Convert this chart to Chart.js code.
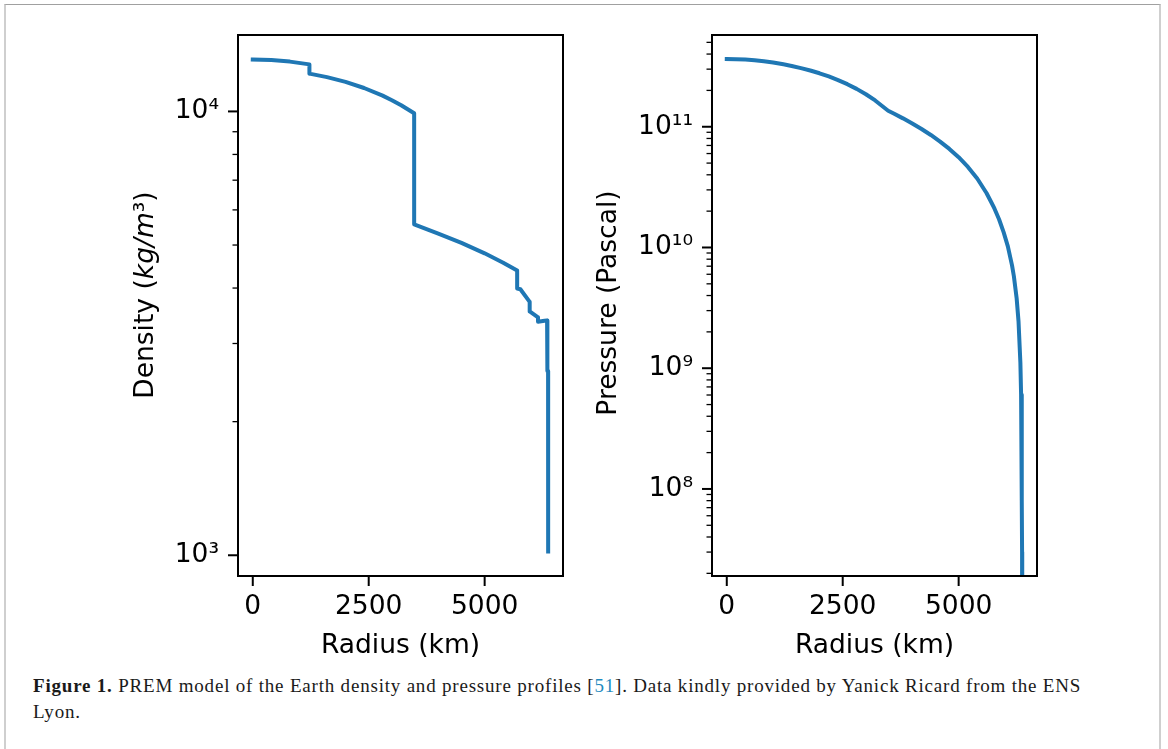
<!DOCTYPE html>
<html>
<head>
<meta charset="utf-8">
<script src="https://cdn.jsdelivr.net/npm/chart.js@4.4.0/dist/chart.umd.min.js"></script>
<style>
	body { margin: 0; background: #fff; width: 1168px; height: 749px; overflow: hidden; position: relative; }
	#frame { position: absolute; left: 4px; top: 4px; width: 1153px; height: 800px;
		border-top: 1px solid #a0a0a0; border-left: 2px solid #cfcfcf; border-right: 2px solid #cfcfcf; }
	canvas { position: absolute; top: 0; }
	#densityChart { left: 0; }
	#pressureChart { left: 584px; }
	#caption { position: absolute; left: 33px; top: 673px; font-family: "Liberation Serif", serif;
		font-size: 19px; letter-spacing: 0.8px; line-height: 26px; color: #1a1a1a; white-space: nowrap; }
	#caption .ref { color: #1f8ac0; }
</style>
</head>
<body>
<div id="frame"></div>
<canvas id="densityChart" width="584" height="670"></canvas>
<canvas id="pressureChart" width="584" height="670"></canvas>
<div id="caption"><b>Figure 1.</b> PREM model of the Earth density and pressure profiles [<span class="ref">51</span>]. Data kindly provided by Yanick Ricard from the ENS<br>Lyon.</div>

<script>
// PREM density (kg/m3) against radius (km), steps are repeated radii
var radiusDensity = [0, 400, 800, 1221.5, 1221.5, 1600, 2000, 2400, 2800, 3000, 3200, 3480, 3480,
	4000, 4500, 5000, 5400, 5701, 5701, 5771, 5971, 5971, 6151, 6151, 6291, 6346.6, 6346.6,
	6356, 6356, 6368, 6368, 6371];
var densityValues = [13088, 13054, 12949, 12764, 12166, 11947, 11655, 11293, 10853, 10601, 10327, 9904, 5566,
	5307, 5055, 4790, 4563, 4381, 3992, 3976, 3724, 3543, 3436, 3360, 3375, 3381, 2900,
	2900, 2600, 2600, 1020, 1020];

// PREM pressure (Pa) against radius (km), last point is the surface (1 atm)
var radiusPressure = [0, 200, 400, 600, 800, 1000, 1221.5, 1400, 1600, 1800, 2000, 2200, 2400, 2600, 2800,
	3000, 3200, 3480, 3600, 3800, 4000, 4200, 4400, 4600, 4800, 5000, 5200, 5400, 5600, 5701,
	5771, 5871, 5971, 6061, 6151, 6191, 6251, 6291, 6331, 6346.6, 6356, 6361, 6366, 6368, 6371];
var pressureValues = [3.6385e11, 3.6291e11, 3.6009e11, 3.554e11, 3.4884e11, 3.4039e11, 3.2885e11, 3.1877e11,
	3.062e11, 2.9238e11, 2.7727e11, 2.61e11, 2.4364e11, 2.2528e11, 2.0599e11, 1.8589e11, 1.6515e11,
	1.3575e11, 1.2871e11, 1.1734e11, 1.0639e11, 9.579e10, 8.547e10, 7.54e10, 6.555e10, 5.591e10,
	4.648e10, 3.726e10, 2.828e10, 2.383e10, 2.104e10, 1.714e10, 1.335e10, 1.021e10, 7.11e9,
	5.78e9, 3.78e9, 2.45e9, 1.12e9, 6.04e8, 3.37e8, 2.09e8, 8.1e7, 3.0e7, 1.01e5];

// tick values
var radiusTicks = [0, 2500, 5000];
var densityTicks = [1000, 2000, 3000, 4000, 5000, 6000, 7000, 8000, 9000, 10000];
var pressureTicks = [2e7, 3e7, 4e7, 5e7, 6e7, 7e7, 8e7, 9e7,
	1e8, 2e8, 3e8, 4e8, 5e8, 6e8, 7e8, 8e8, 9e8,
	1e9, 2e9, 3e9, 4e9, 5e9, 6e9, 7e9, 8e9, 9e9,
	1e10, 2e10, 3e10, 4e10, 5e10, 6e10, 7e10, 8e10, 9e10,
	1e11, 2e11, 3e11, 4e11, 5e11];

var radiusRange = [-318.55, 6689.55];
var densityRange = [898.0, 14866];
var pressureRange = [1.901e7, 5.754e11];

var FONT = "DejaVu Sans";
var SUP = { "0": "\u2070", "1": "\u00b9", "2": "\u00b2", "3": "\u00b3", "4": "\u2074",
	"5": "\u2075", "6": "\u2076", "7": "\u2077", "8": "\u2078", "9": "\u2079" };

function isDecade(v) {
	var e = Math.log10(v);
	return Math.abs(e - Math.round(e)) < 1e-9;
}

function decadeLabel(v) {
	if (!isDecade(v)) return "";
	var s = String(Math.round(Math.log10(v)));
	var out = "10";
	for (var i = 0; i < s.length; i++) out += SUP[s[i]];
	return out;
}

function toPoints(xs, ys) {
	var pts = [];
	for (var i = 0; i < xs.length; i++) pts.push({ x: xs[i], y: ys[i] });
	return pts;
}

// draws the axes box, matplotlib style ticks and the axis titles
var decorPlugin = {
	id: "decor",
	afterDraw: function(chart, args, opts) {
		var ctx = chart.ctx;
		var a = chart.chartArea;
		var xs = chart.scales.x, ys = chart.scales.y;
		ctx.save();
		ctx.strokeStyle = "#000";
		ctx.lineWidth = 2;
		ctx.strokeRect(a.left, a.top, a.right - a.left, a.bottom - a.top);

		xs.ticks.forEach(function(t) {
			var px = xs.getPixelForValue(t.value);
			ctx.beginPath();
			ctx.moveTo(px, a.bottom);
			ctx.lineTo(px, a.bottom + 10);
			ctx.stroke();
		});
		ys.ticks.forEach(function(t) {
			var py = ys.getPixelForValue(t.value);
			var major = isDecade(t.value);
			ctx.lineWidth = major ? 2 : 1.3;
			ctx.beginPath();
			ctx.moveTo(a.left, py);
			ctx.lineTo(a.left - (major ? 10 : 5.5), py);
			ctx.stroke();
		});

		ctx.fillStyle = "#000";
		ctx.textBaseline = "alphabetic";
		drawSegments(ctx, opts.xTitle, (a.left + a.right) / 2, opts.xTitleY, 0);
		drawSegments(ctx, opts.yTitle, opts.yTitleX, opts.yTitleCenter, -Math.PI / 2);
		ctx.restore();
	}
};

function drawSegments(ctx, segs, cx, cy, rot) {
	var total = 0;
	segs.forEach(function(s) {
		ctx.font = (s.italic ? "italic " : "") + "26.5px '" + FONT + "'";
		s.w = ctx.measureText(s.text).width;
		total += s.w;
	});
	ctx.save();
	ctx.translate(cx, cy);
	ctx.rotate(rot);
	var x = -total / 2;
	segs.forEach(function(s) {
		ctx.font = (s.italic ? "italic " : "") + "26.5px '" + FONT + "'";
		ctx.textAlign = "left";
		ctx.fillText(s.text, x, 0);
		x += s.w;
	});
	ctx.restore();
}

function makeChart(id, xs, ys, yRange, yTicks, padRight, yWidth, decor) {
	return new Chart(document.getElementById(id), {
		type: "line",
		data: {
			datasets: [{
				data: toPoints(xs, ys),
				borderColor: "#1f77b4",
				borderWidth: 4,
				borderCapStyle: "square",
				borderJoinStyle: "round",
				pointRadius: 0,
				tension: 0,
				fill: false,
				clip: { left: 2, top: 2, right: 2, bottom: 0 }
			}]
		},
		options: {
			responsive: false,
			animation: false,
			layout: { padding: { left: 0, top: 35, right: padRight, bottom: 0 } },
			plugins: { legend: { display: false }, tooltip: { enabled: false }, decor: decor },
			scales: {
				x: {
					type: "linear",
					min: radiusRange[0],
					max: radiusRange[1],
					afterBuildTicks: function(axis) {
						axis.ticks = radiusTicks.map(function(v) { return { value: v }; });
					},
					afterFit: function(axis) { axis.height = 94; },
					grid: { drawOnChartArea: false, drawTicks: true, tickLength: 10, tickColor: "rgba(0,0,0,0)" },
					border: { display: false },
					ticks: {
						padding: 5,
						autoSkip: false,
						maxRotation: 0,
						color: "#000",
						font: { family: FONT, size: 26.5 },
						callback: function(v) { return String(v); }
					}
				},
				y: {
					type: "logarithmic",
					min: yRange[0],
					max: yRange[1],
					afterBuildTicks: function(axis) {
						axis.ticks = yTicks.map(function(v) { return { value: v }; });
					},
					afterFit: function(axis) { axis.width = yWidth; },
					grid: { drawOnChartArea: false, drawTicks: true, tickLength: 10, tickColor: "rgba(0,0,0,0)" },
					border: { display: false },
					ticks: {
						padding: 9,
						autoSkip: false,
						color: "#000",
						font: { family: FONT, size: 26.5 },
						callback: function(v) { return decadeLabel(v); }
					}
				}
			}
		},
		plugins: [decorPlugin]
	});
}

makeChart("densityChart", radiusDensity, densityValues, densityRange, densityTicks, 21, 238, {
	xTitle: [{ text: "Radius (km)" }],
	xTitleY: 652.5,
	yTitle: [{ text: "Density (" }, { text: "kg/m", italic: true }, { text: "\u00b3)" }],
	yTitleX: 153,
	yTitleCenter: 295
});

makeChart("pressureChart", radiusPressure, pressureValues, pressureRange, pressureTicks, 131, 128, {
	xTitle: [{ text: "Radius (km)" }],
	xTitleY: 652.5,
	yTitle: [{ text: "Pressure (Pascal)" }],
	yTitleX: 32,
	yTitleCenter: 303
});
</script>
</body>
</html>
